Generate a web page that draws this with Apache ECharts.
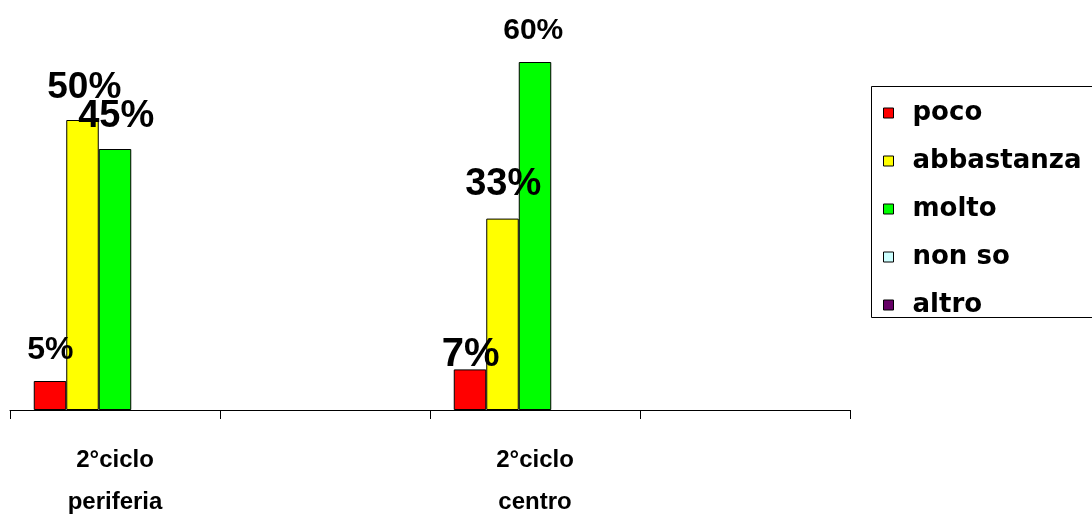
<!DOCTYPE html>
<html>
<head>
<meta charset="utf-8">
<script src="https://cdn.jsdelivr.net/npm/echarts@6/dist/echarts.min.js"></script>
<style>
  html, body { margin: 0; padding: 0; background: #fff; overflow: hidden; }
  #chart { width: 1092px; height: 517px; }
</style>
</head>
<body>
<div id="chart"></div>
<script>
// Category slots: each labelled group is followed by an empty slot
const categories = ['2°ciclo\nperiferia', '', '2°ciclo\ncentro', ''];
const seriesNames = ['poco', 'abbastanza', 'molto', 'non so', 'altro'];

// Percentages per category slot
const poco       = [5, null, 7, null];
const abbastanza = [50, null, 33, null];
const molto      = [45, null, 60, null];
const nonSo      = [null, null, null, null];
const altro      = [null, null, null, null];

const values = [poco, abbastanza, molto, nonSo, altro];
const colors = ['#FF0000', '#FFFF00', '#00FF00', '#CCFFFF', '#660066'];

// Value-label placement (relative to the bar's top-left corner) and size
const labelLayout = [
  [{ at: [16.5, -31], size: 32 }, null, { at: [17, -14], size: 40 }, null],
  [{ at: [18, -32.5], size: 37 }, null, { at: [17, -34.5], size: 38 }, null],
  [{ at: [17.5, -32.5], size: 38 }, null, { at: [14.5, -31], size: 30 }, null],
  [null, null, null, null],
  [null, null, null, null]
];

const series = seriesNames.map((name, s) => ({
  name: name,
  type: 'bar',
  barWidth: 32.5,
  barGap: '0%',
  itemStyle: { color: colors[s], borderColor: '#000', borderWidth: 1 },
  data: values[s].map((v, i) => {
    const lay = labelLayout[s][i];
    return {
      value: v,
      label: lay ? {
        show: true,
        position: lay.at,
        align: 'center',
        verticalAlign: 'middle',
        fontFamily: 'Liberation Sans, Arial, sans-serif',
        fontWeight: 'bold',
        fontSize: lay.size,
        color: '#000',
        formatter: '{c}%'
      } : { show: false }
    };
  })
}));

const chart = echarts.init(document.getElementById('chart'), null, { renderer: 'canvas', width: 1092, height: 517 });
chart.setOption({
  animation: false,
  backgroundColor: '#fff',
  grid: { left: 10, right: 242, top: 4, bottom: 107, containLabel: false, outerBoundsMode: 'none' },
  xAxis: {
    type: 'category',
    data: categories,
    axisLine: { show: true, lineStyle: { color: '#000', width: 1 } },
    axisTick: { show: true, interval: 0, length: 9, lineStyle: { color: '#000', width: 1 } },
    axisLabel: {
      interval: 0,
      margin: 29,
      color: '#000',
      fontFamily: 'Liberation Sans, Arial, sans-serif',
      fontWeight: 'bold',
      fontSize: 24,
      lineHeight: 42
    },
    splitLine: { show: false }
  },
  yAxis: {
    type: 'value',
    min: 0,
    max: 70,
    show: false
  },
  legend: {
    orient: 'vertical',
    left: 883,
    top: 98,
    padding: 0,
    itemWidth: 10,
    itemHeight: 10,
    itemGap: 18,
    icon: 'rect',
    data: seriesNames,
    itemStyle: { borderColor: '#000', borderWidth: 1 },
    textStyle: {
      fontFamily: 'DejaVu Sans, sans-serif',
      fontWeight: 'bold',
      fontSize: 26,
      lineHeight: 30,
      color: '#000',
      padding: [0, 0, 0, 14]
    }
  },
  graphic: [{
    type: 'rect',
    shape: { x: 871.5, y: 86.5, width: 400, height: 231 },
    style: { fill: 'none', stroke: '#000', lineWidth: 1 },
    z: 0
  }],
  series: series
});
</script>
</body>
</html>
